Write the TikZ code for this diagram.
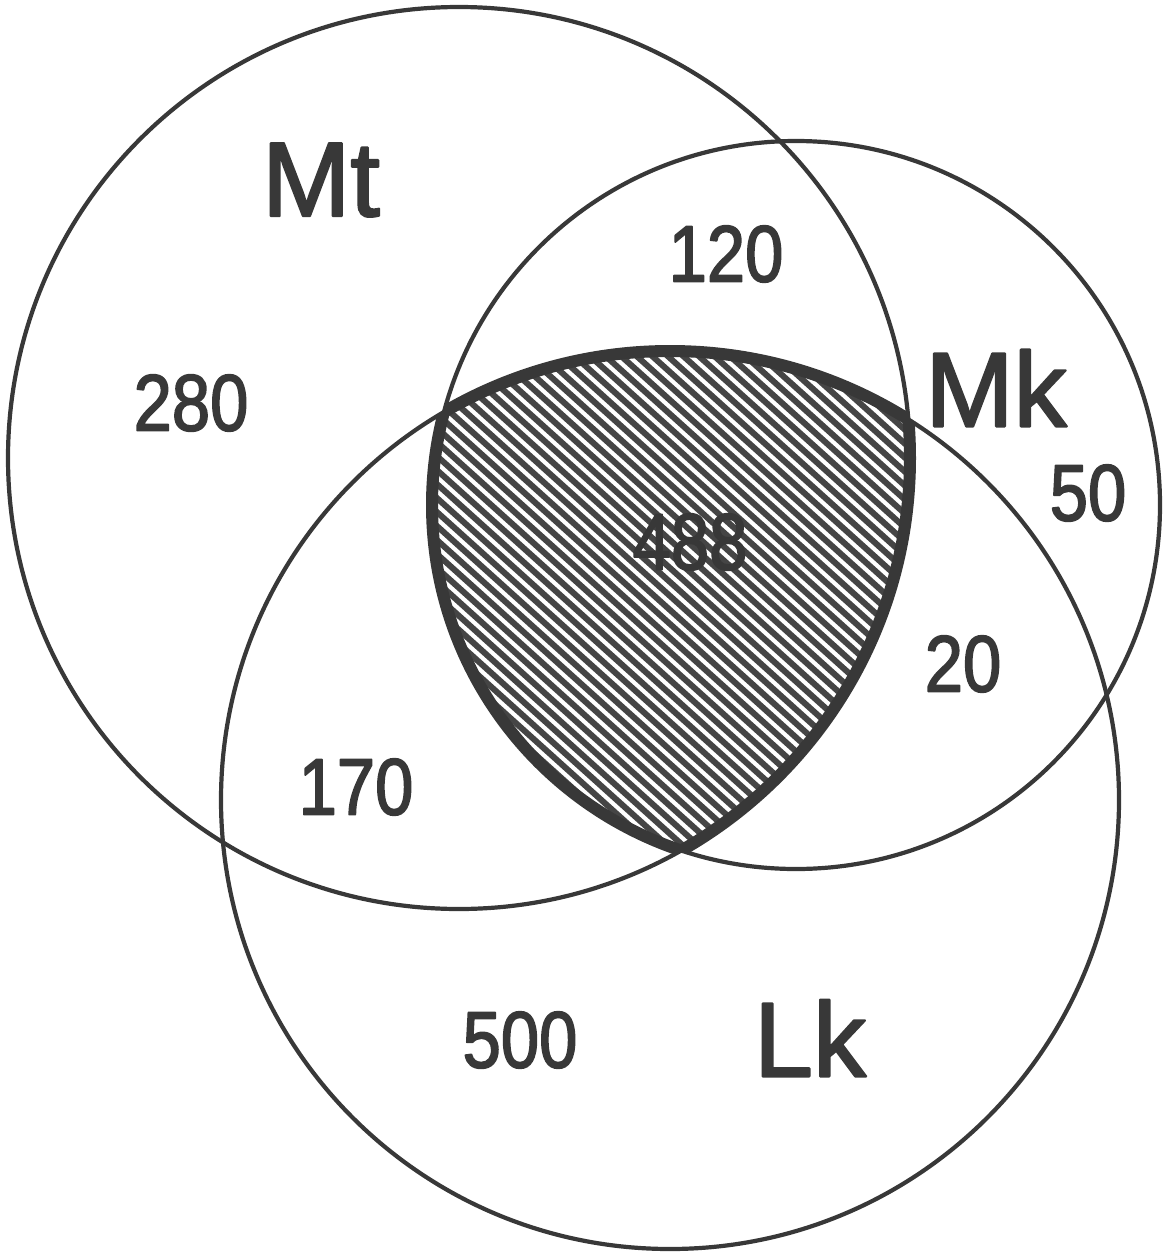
\documentclass[tikz,border=0pt]{standalone}
\usepackage{fontspec}
\setmainfont{Liberation Sans}
\usetikzlibrary{calc}
\definecolor{ink}{HTML}{383838}
\definecolor{hatchink}{HTML}{454545}
% glyphs filled and stroked, for a heavier printed look
\newcommand{\heavy}[2]{\special{pdf:literal direct 2 Tr #1 w 1 j}#2\special{pdf:literal direct 0 Tr}}
\tikzset{
  setline/.style={draw=ink, line width=4.2},
  rimline/.style={draw=ink, line width=12},
  hatchline/.style={draw=hatchink, line width=6},
  setname/.style={text=ink, inner sep=0pt, font=\fontsize{106}{106}\selectfont},
  count/.style={text=ink, inner sep=0pt, font=\fontsize{80}{80}\selectfont},
}
\newcommand{\narrow}[1]{\scalebox{0.86}[1]{#1}}
\begin{document}
\begin{tikzpicture}[x=1pt, y=-1pt]
  \useasboundingbox[fill=white] (0,0) rectangle (1168,1253);

  % the three sets
  \coordinate (cMt) at (459,458);
  \coordinate (cMk) at (796,505);
  \coordinate (cLk) at (670,800);
  \def\rMt{451}
  \def\rMk{364}
  \def\rLk{449}

  % hatching of the common part of all three sets
  \begin{scope}
    \clip (cMt) circle[radius=\rMt];
    \clip (cMk) circle[radius=\rMk];
    \clip (cLk) circle[radius=\rLk];
    \foreach \k in {-45,...,45} {
      \draw[hatchline] ({690-0.669*10.4*\k-0.743*700},{600+0.743*10.4*\k-0.669*700})
        -- ++({0.743*1400},{0.669*1400});
    }
  \end{scope}

  % circle outlines
  \draw[setline] (cMt) circle[radius=\rMt];
  \draw[setline] (cMk) circle[radius=\rMk];
  \draw[setline] (cLk) circle[radius=\rLk];

  % heavier rim around the common part
  \begin{scope}
    \clip (cMt) circle[radius=\rMt];
    \clip (cMk) circle[radius=\rMk];
    \draw[rimline] (cLk) circle[radius=\rLk];
  \end{scope}
  \begin{scope}
    \clip (cMk) circle[radius=\rMk];
    \clip (cLk) circle[radius=\rLk];
    \draw[rimline] (cMt) circle[radius=\rMt];
  \end{scope}
  \begin{scope}
    \clip (cMt) circle[radius=\rMt];
    \clip (cLk) circle[radius=\rLk];
    \draw[rimline] (cMk) circle[radius=\rMk];
  \end{scope}

  % set names
  \node[setname] (nMt) at (321,180) {\heavy{2.2}{Mt}};
  \node[setname] (nMk) at (996,388) {\heavy{2.2}{Mk}};
  \node[setname] (nLk) at (810,1038) {\heavy{2.2}{Lk}};

  % region counts
  \node[count] (n280) at (191,403) {\narrow{\heavy{1.8}{280}}};
  \node[count] (n120) at (726,254) {\narrow{\heavy{1.8}{120}}};
  \node[count] (n50)  at (1088,493) {\narrow{\heavy{1.8}{50}}};
  \node[count] (n20)  at (963,664) {\narrow{\heavy{1.8}{20}}};
  \node[count] (n170) at (356,787) {\narrow{\heavy{1.8}{170}}};
  \node[count] (n500) at (520,1040) {\narrow{\heavy{1.8}{500}}};
  \node[count] (n488) at (690,542) {\narrow{\heavy{1.8}{488}}};
\end{tikzpicture}
\end{document}
